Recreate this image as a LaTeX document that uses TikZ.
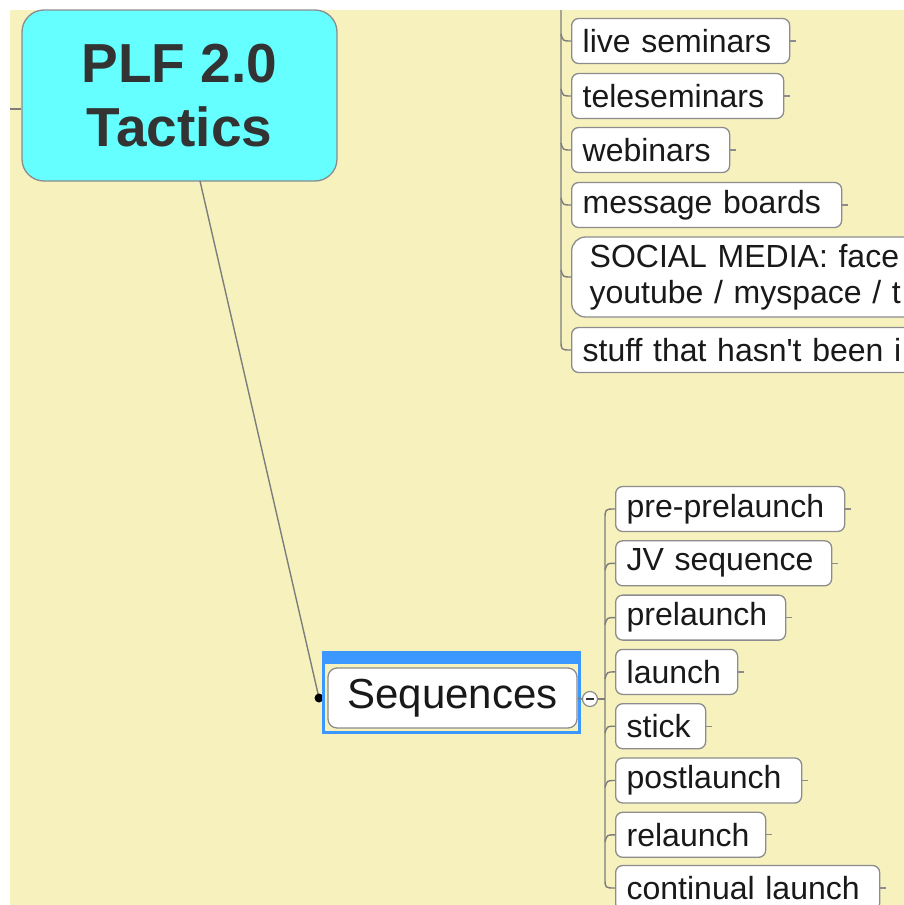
\documentclass[tikz,border=0pt]{standalone}
\usepackage{fontspec}
\setmainfont{Liberation Sans}
\usetikzlibrary{calc}
\definecolor{bgbeige}{RGB}{247,242,189}
\definecolor{boxgray}{RGB}{140,140,140}
\definecolor{linegray}{RGB}{125,125,125}
\definecolor{rootcyan}{RGB}{102,255,255}
\definecolor{selblue}{RGB}{60,152,255}
\definecolor{txt}{RGB}{25,25,25}
\definecolor{roottxt}{RGB}{51,51,51}
\begin{document}
\begin{tikzpicture}[x=1pt,y=-1pt,
  leaf/.style={draw=boxgray, line width=1.3pt, fill=white, rounded corners=7pt,
    minimum height=45pt, inner xsep=11pt, inner ysep=0pt, anchor=west, align=left,
    font=\fontsize{32}{36}\selectfont, text=txt},
  conn/.style={draw=linegray, line width=1.4pt},
  stub/.style={draw=boxgray, line width=1.3pt}]
\useasboundingbox (0,0) rectangle (904,905);
\fill[white] (0,0) rectangle (904,905);
\fill[bgbeige] (10,10) rectangle (904,905);

% root
\node[draw=boxgray, line width=1.3pt, fill=rootcyan, rounded corners=22pt,
  minimum width=315pt, minimum height=171pt, align=center,
  font=\fontsize{55}{64}\selectfont\bfseries, text=roottxt] (root) at (179.5,95.5) {PLF 2.0\\Tactics};
\coordinate (rootin) at (10,109);
\draw[conn] (rootin) -- (rootin -| root.west);

% top group
\node[leaf, text width=196pt] (ls) at (571,41) {live seminars};
\node[leaf, text width=190pt] (ts) at (571,96) {teleseminars};
\node[leaf, text width=136pt] (wb) at (571,150) {webinars};
\node[leaf, text width=248pt] (mb) at (571,205) {message boards};
\node[leaf, text width=400pt, minimum height=80pt, inner xsep=18pt, rounded corners=14pt] (sm) at (571,277) {SOCIAL MEDIA: face\\youtube / myspace / t};
\node[leaf, text width=400pt] (st) at (571,350) {stuff that hasn\textquotesingle t been i};

\coordinate (topline) at (561,10);
\draw[conn] (topline) -- ($(st.west)+(-10,-10)$) .. controls ($(st.west)+(-10,0)$) .. (st.west);
\foreach \n in {ls,ts,wb,mb,sm} {
  \draw[conn] ($(\n.west)+(-10,-7)$) .. controls ($(\n.west)+(-8,0)$) .. (\n.west);
}
\foreach \n in {ls,ts,wb,mb} {
  \draw[stub] (\n.east) -- ++(6,0);
}

% main connector
\coordinate (rootout) at (200,181);
\coordinate (seqdot) at (319,698);
\draw[conn] (rootout) -- (seqdot);
\fill[black] (seqdot) circle (4.5pt);

% selection frame and Sequences
\draw[selblue, line width=3.5pt] (323.5,652.5) rectangle (579.5,732.5);
\fill[selblue] (322,651) rectangle (581,664);
\node[draw=boxgray, line width=1.3pt, fill=white, rounded corners=9pt,
  minimum width=249pt, minimum height=60pt,
  font=\fontsize{42}{48}\selectfont, text=txt] (seq) at (452.5,698) {Sequences};

% collapse button
\node[circle, draw=boxgray, fill=white, line width=1.2pt, minimum size=15pt, inner sep=0pt] (col) at (590,699) {};
\draw[line width=2pt, roottxt] ($(col.center)+(-4,0)$) -- ($(col.center)+(4,0)$);
\coordinate (brk) at (605,699);
\draw[conn] (seq.east) -- (col.west);
\draw[conn] (col.east) -- (brk);

% sequence children
\node[leaf, text width=207pt] (p1) at (615,509) {pre-prelaunch};
\node[leaf, text width=194pt] (p2) at (615,563.3) {JV sequence};
\node[leaf, text width=148pt] (p3) at (615,617.6) {prelaunch};
\node[leaf, text width=100pt] (p4) at (615,671.9) {launch};
\node[leaf, text width=68pt] (p5) at (615,726.2) {stick};
\node[leaf, text width=164pt] (p6) at (615,780.5) {postlaunch};
\node[leaf, text width=128pt] (p7) at (615,834.8) {relaunch};
\node[leaf, text width=242pt] (p8) at (615,888) {continual launch};

\draw[conn] (p1.west) .. controls ($(p1.west)+(-10,0)$) .. ($(p1.west)+(-10,11)$)
  -- ($(p8.west)+(-10,-10)$) .. controls ($(p8.west)+(-10,0)$) .. (p8.west);
\foreach \n in {p2,p3,p4,p5,p6,p7} {
  \draw[conn] ($(\n.west)+(-10,7)$) .. controls ($(\n.west)+(-8,0)$) .. (\n.west);
}
\foreach \n in {p1,p2,p3,p4,p5,p6,p7,p8} {
  \draw[stub] (\n.east) -- ++(6,0);
}
\end{tikzpicture}
\end{document}
